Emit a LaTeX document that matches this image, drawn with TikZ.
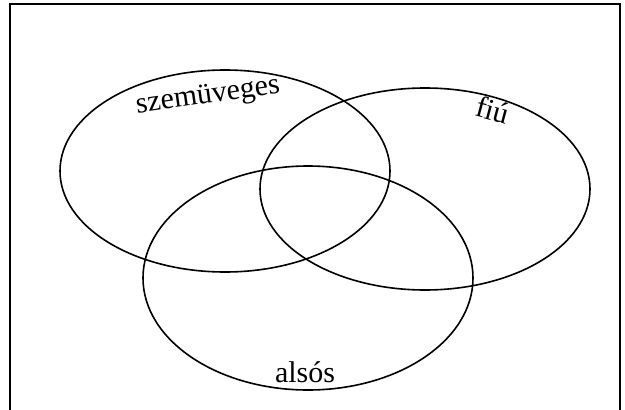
\documentclass[tikz,border=0pt]{standalone}
\usepackage{fontspec}
\setmainfont{Liberation Serif}
\begin{document}
\begin{tikzpicture}[x=1pt,y=-1pt,
  setline/.style={line width=1.6pt},
  lbl/.style={font=\fontsize{30}{36}\selectfont, inner sep=0pt}]
\useasboundingbox (0,0) rectangle (625,410);
\draw[line width=1.4pt] (10,420) -- (10,4) -- (620,4) -- (620,420);
\draw[setline] (225,171) ellipse [x radius=165, y radius=101];
\draw[setline] (425,189) ellipse [x radius=165, y radius=101];
\draw[setline] (308,278) ellipse [x radius=165, y radius=112];
\node[lbl, rotate=8] (sz) at (208,97) {szemüveges};
\node[lbl, rotate=-15] (fi) at (493,110) {fiú};
\node[lbl] (al) at (305,372) {alsós};
\end{tikzpicture}
\end{document}
